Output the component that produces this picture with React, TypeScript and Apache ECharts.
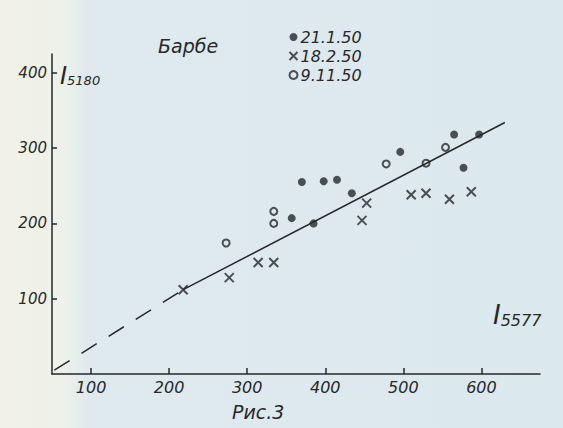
import React, { useEffect, useRef } from "react";
import * as echarts from "echarts";

// Axis ticks
const xTicks = [100, 200, 300, 400, 500, 600];
const yTicks = [100, 200, 300, 400];

// Series values [I5577, I5180]
const dots21 = [
  [370, 255], [398, 256], [415, 258], [434, 240], [357, 207],
  [385, 200], [496, 295], [565, 318], [597, 318], [577, 274],
];
const crosses18 = [
  [218, 112], [277, 128], [314, 148], [334, 148], [447, 204],
  [453, 227], [510, 238], [529, 240], [559, 232], [587, 242],
];
const circles9 = [
  [273, 174], [334, 216], [334, 200], [478, 279], [529, 280], [554, 301],
];
// Fitted line
const fitDashed = [[53, 5], [218, 112]];
const fitSolid = [[218, 112], [630, 334]];

const seriesNames = ["21.1.50", "18.2.50", "9.11.50"];

const INK = "#26282a";
const FONT = "'DejaVu Sans', sans-serif";
const CROSS = "path://M0,0L10,10M10,0L0,10";

export default function App() {
  const ref = useRef<HTMLDivElement>(null);
  useEffect(() => {
    if (!ref.current) return;
    const chart = echarts.init(ref.current, null, { renderer: "svg" });
    chart.setOption({
      animation: false,
      backgroundColor: "transparent",
      grid: { left: 52, right: 23, top: 54, bottom: 54 },
      legend: {
        data: seriesNames,
        orient: "vertical",
        left: 282,
        top: 24,
        itemWidth: 8,
        itemHeight: 8,
        itemGap: 3,
        textStyle: { color: INK, fontSize: 16, fontStyle: "italic", fontFamily: FONT, padding: [0, 0, 0, -2] },
      },
      xAxis: {
        type: "value",
        min: 50,
        max: 675,
        splitLine: { show: false },
        axisLine: { lineStyle: { color: INK, width: 1.5 } },
        axisTick: { inside: true, length: 6, customValues: xTicks, lineStyle: { color: INK, width: 1.5 } },
        axisLabel: {
          customValues: xTicks,
          color: INK,
          fontSize: 16,
          fontStyle: "italic",
          fontFamily: FONT,
          margin: 5,
        },
      },
      yAxis: {
        type: "value",
        min: 0,
        max: 425,
        splitLine: { show: false },
        axisLine: { lineStyle: { color: INK, width: 1.5 } },
        axisTick: { inside: true, length: 5, customValues: yTicks, lineStyle: { color: INK, width: 1.5 } },
        axisLabel: {
          customValues: yTicks,
          color: INK,
          fontSize: 15,
          fontStyle: "italic",
          fontFamily: FONT,
          margin: 5,
        },
      },
      series: [
        {
          name: seriesNames[0],
          type: "scatter",
          symbol: "circle",
          symbolSize: 8,
          itemStyle: { color: INK },
          data: dots21,
        },
        {
          name: seriesNames[1],
          type: "scatter",
          symbol: CROSS,
          symbolSize: 9,
          itemStyle: { color: "none", borderColor: INK, borderWidth: 2 },
          data: crosses18,
        },
        {
          name: seriesNames[2],
          type: "scatter",
          symbol: "circle",
          symbolSize: 7,
          itemStyle: { color: "rgba(0,0,0,0)", borderColor: INK, borderWidth: 2 },
          data: circles9,
        },
        {
          type: "line",
          data: fitDashed,
          showSymbol: false,
          lineStyle: { color: INK, width: 1.5, type: [18, 14] },
          z: 1,
        },
        {
          type: "line",
          data: fitSolid,
          showSymbol: false,
          lineStyle: { color: INK, width: 1.5 },
          z: 1,
        },
      ],
      graphic: [
        {
          type: "text",
          left: 60,
          top: 64,
          style: {
            text: "{I|I}{s|5180}",
            rich: {
              I: { fontSize: 24, fontStyle: "italic", fontFamily: FONT, fill: INK },
              s: { fontSize: 13, fontStyle: "italic", fontFamily: FONT, fill: INK, padding: [8, 0, 0, 0] },
            },
          },
        },
        {
          type: "text",
          left: 493,
          top: 302,
          style: {
            text: "{I|I}{s|5577}",
            rich: {
              I: { fontSize: 26, fontStyle: "italic", fontFamily: FONT, fill: INK },
              s: { fontSize: 16, fontStyle: "italic", fontFamily: FONT, fill: INK, padding: [10, 0, 0, 0] },
            },
          },
        },
        {
          type: "text",
          left: 158,
          top: 36,
          style: { text: "Барбе", fontSize: 19, fontStyle: "italic", fontFamily: FONT, fill: INK },
        },
        {
          type: "text",
          left: 232,
          top: 402,
          style: { text: "Рис.3", fontSize: 19, fontStyle: "italic", fontFamily: FONT, fill: INK },
        },
      ],
    });
    return () => chart.dispose();
  }, []);
  return (
    <div
      ref={ref}
      style={{
        position: "fixed",
        left: 0,
        top: 0,
        width: 563,
        height: 428,
        background:
          "linear-gradient(to right, #f1f1e6 0px, #eef1ea 62px, #dfeaee 88px, #dbe8ee 100%)",
      }}
    />
  );
}
